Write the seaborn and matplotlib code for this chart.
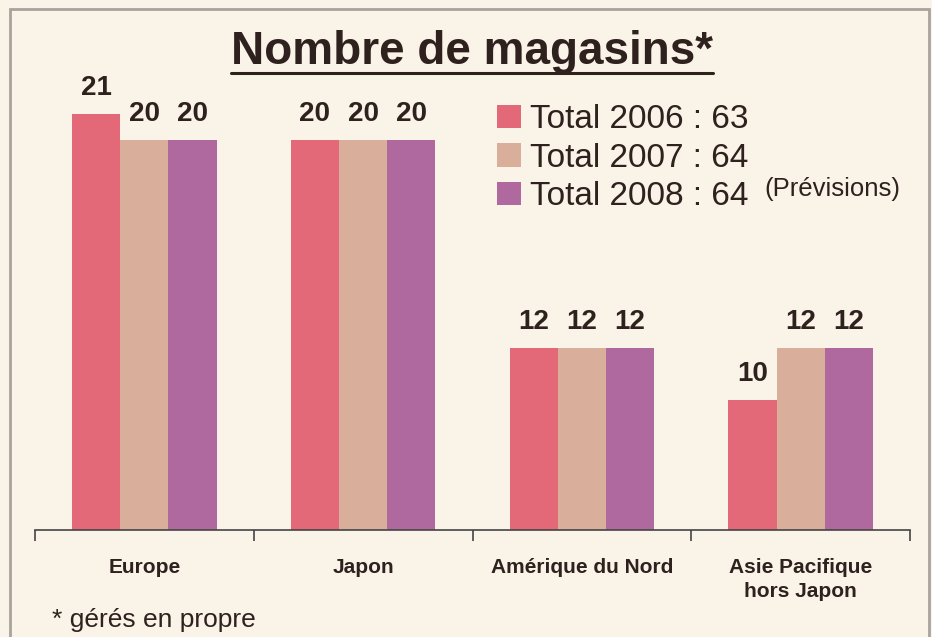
import pandas as pd
import matplotlib
matplotlib.use("Agg")
import matplotlib.pyplot as plt
import seaborn as sns
from matplotlib.patches import Rectangle
from matplotlib.lines import Line2D

# Data
regions = ["Europe", "Japon", "Amérique du Nord", "Asie Pacifique\nhors Japon"]
years = ["2006", "2007", "2008"]
stores_2006 = [21, 20, 12, 10]
stores_2007 = [20, 20, 12, 12]
stores_2008 = [20, 20, 12, 12]
colors = ["#E36878", "#D9AF9C", "#B0699E"]

bg = "#FAF3E8"
ink = "#2E211E"

df = pd.DataFrame({
    "region": regions * 3,
    "year": [y for y in years for _ in regions],
    "n": stores_2006 + stores_2007 + stores_2008,
})

sns.set_theme(style="white")
plt.rcParams["font.family"] = ["Liberation Sans", "DejaVu Sans"]

fig = plt.figure(figsize=(9.32, 6.37), dpi=100, facecolor=bg)
ax = fig.add_axes([35 / 932, 1 - 530 / 637, 875 / 932, 500 / 637])
ax.set_facecolor(bg)

sns.barplot(data=df, x="region", y="n", hue="year", palette=colors,
            width=0.66, saturation=1, linewidth=0, ax=ax, legend=True)

for c in ax.containers:
    ax.bar_label(c, padding=9, fontsize=20, fontweight="bold", color=ink)

ax.set_ylim(5, 5 + 500 / 26)
ax.set_xlim(-0.5, 3.5)
ax.set_xlabel("")
ax.set_ylabel("")
ax.set_yticks([])
for s in ["left", "top", "right"]:
    ax.spines[s].set_visible(False)
ax.spines["bottom"].set_color("#444444")
ax.spines["bottom"].set_linewidth(1.2)

ax.set_xticks([-0.5, 0.5, 1.5, 2.5, 3.5], minor=True)
ax.tick_params(axis="x", which="minor", length=8, width=1.2, color="#444444", direction="out", bottom=True)
ax.tick_params(axis="x", which="major", length=0, pad=20)
for lab in ax.get_xticklabels():
    lab.set_fontsize(15)
    lab.set_fontweight("bold")
    lab.set_color(ink)
    lab.set_linespacing(1.35)
    lab.set_verticalalignment("top")

# legend with totals
totals = [sum(stores_2006), sum(stores_2007), sum(stores_2008)]
handles, _ = ax.get_legend_handles_labels()
labels = [f"Total {y} : {t}" for y, t in zip(years, totals)]
ax.legend(handles, labels, loc="upper left", bbox_to_anchor=(484 / 932, 1 - 91 / 637),
          bbox_transform=fig.transFigure, frameon=False, fontsize=24,
          handlelength=0.7, handleheight=0.7, handletextpad=0.28,
          labelspacing=0.22, borderaxespad=0, labelcolor=ink)
fig.text(764 / 932, 1 - 189 / 637, "(Prévisions)", fontsize=18.5, color=ink, va="center")

# title with underline
title = fig.text(472 / 932, 1 - 52 / 637, "Nombre de magasins*", fontsize=33,
                 fontweight="bold", color=ink, ha="center", va="center")
fig.canvas.draw()
bb = title.get_window_extent().transformed(fig.transFigure.inverted())
fig.add_artist(Line2D([bb.x0, bb.x1], [1 - 73 / 637] * 2, color=ink, lw=2.2,
                      transform=fig.transFigure))

fig.text(52 / 932, 1 - 620 / 637, "* gérés en propre", fontsize=19, color=ink, va="center")

# frame around the panel
fig.add_artist(Rectangle((10 / 932, -0.05), 919 / 932, 1.05 - 9 / 637,
                         transform=fig.transFigure, fill=False, ec="#A8A39C", lw=2))

fig.savefig("out.png", dpi=100, facecolor=bg)
